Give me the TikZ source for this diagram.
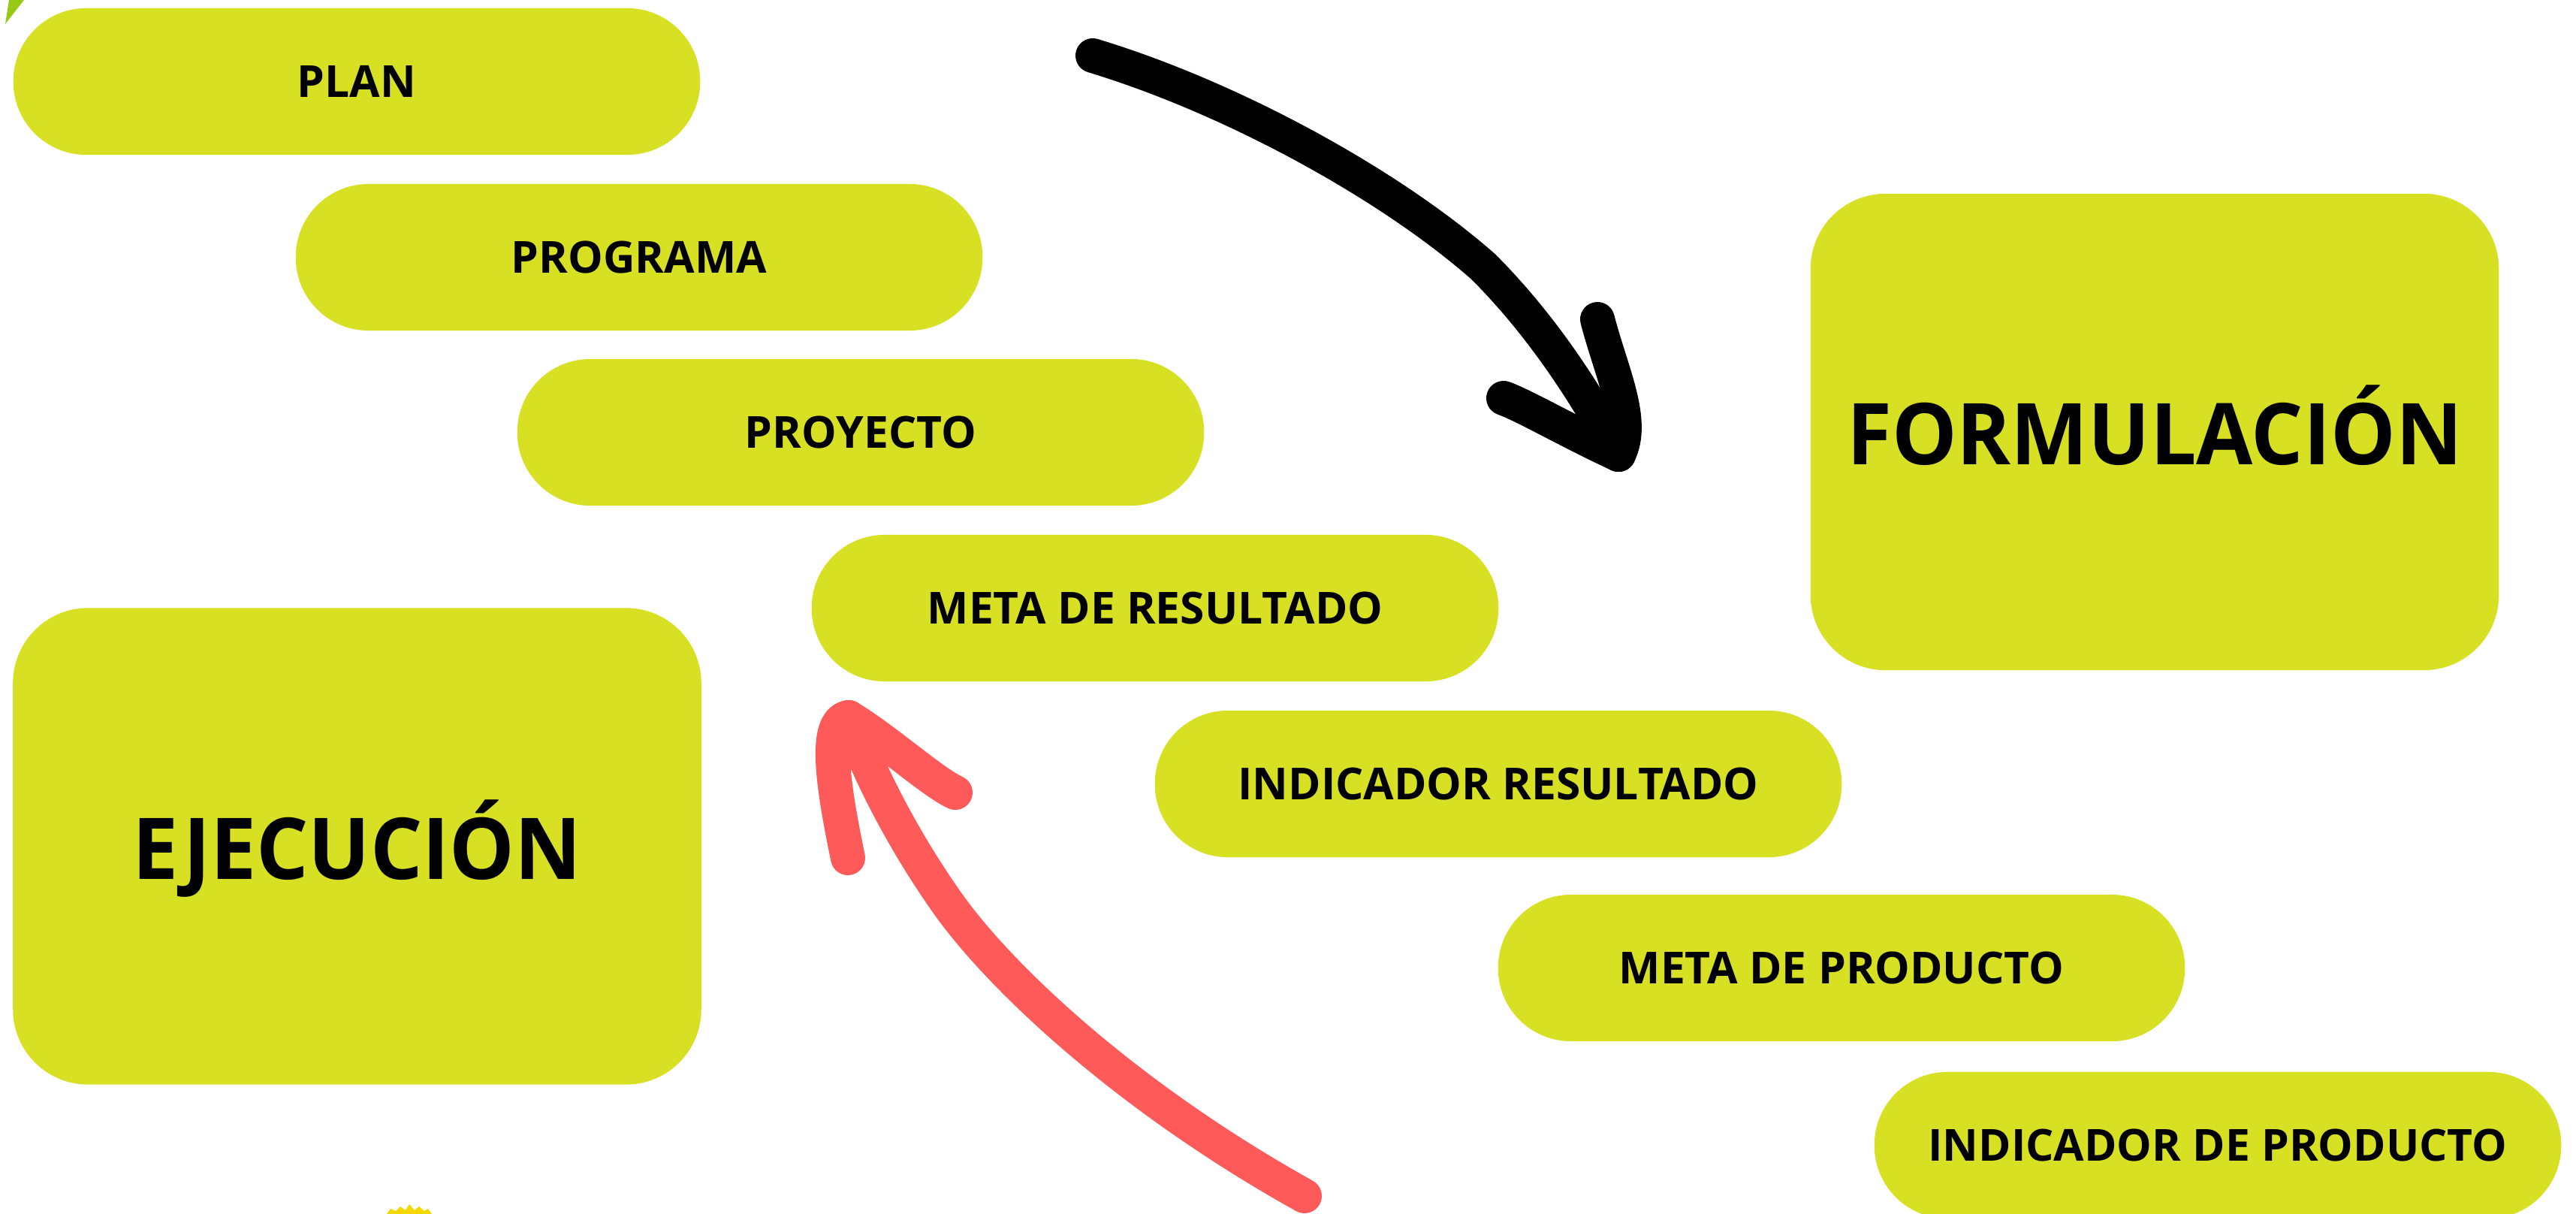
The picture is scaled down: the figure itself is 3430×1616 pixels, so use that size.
\documentclass[tikz,border=0pt]{standalone}
\usepackage{fontspec}
\setmainfont{Open Sans}
\newfontfamily\bigfont{Open Sans}[FakeStretch=0.96]
\definecolor{lime}{RGB}{215,224,34}
\definecolor{redarrow}{RGB}{255,90,90}
\definecolor{leafgreen}{RGB}{150,200,20}
\definecolor{sunyellow}{RGB}{245,215,0}
\tikzset{
  pill/.style={fill=lime, draw=none, minimum width=9.14cm, minimum height=1.95cm,
    rounded corners=0.97cm, inner sep=0pt, font=\bfseries\fontsize{16.7}{20}\selectfont},
  bigbox/.style={fill=lime, draw=none, minimum width=9.16cm, minimum height=6.34cm,
    rounded corners=1.0cm, inner sep=0pt, text height=0.875cm, text depth=0pt,
    font=\bigfont\bfseries\fontsize{32.3}{38}\selectfont},
  sketch/.style={line width=0.46cm, line cap=round, line join=round}
}
\begin{document}
\begin{tikzpicture}[x=0.01cm,y=-0.01cm]
\useasboundingbox[fill=white] (0,0) rectangle (3430,1616);
% decorative fragments at the edges
\fill[leafgreen] (12,0) -- (32,0) -- (7,32) -- cycle;
\fill[sunyellow] (515,1616) -- (520,1609) -- (527,1612) -- (533,1606) -- (540,1611) -- (545,1603)
  -- (552,1611) -- (558,1606) -- (565,1612) -- (570,1609) -- (575,1616) -- cycle;
% pills
\node[pill] (plan) at (475,108.5) {PLAN};
\node[pill] (programa) at (851,342.5) {PROGRAMA};
\node[pill] (proyecto) at (1146,575.5) {PROYECTO};
\node[pill] (metares) at (1538,809.5) {META DE RESULTADO};
\node[pill] (indres) at (1995,1043.5) {INDICADOR RESULTADO};
\node[pill] (metaprod) at (2452,1288.5) {META DE PRODUCTO};
\node[pill] (indprod) at (2953,1524.5) {INDICADOR DE PRODUCTO};
% big boxes
\node[bigbox] (form) at (2869,575) {FORMULACIÓN};
\node[bigbox] (ejec) at (475.5,1126.5) {EJECUCIÓN};
% black arrow
\coordinate (bstart) at (1455,74);
\coordinate (bmid) at (1975,355);
\coordinate (btip) at (2155,605);
\coordinate (bl) at (2002,530);
\coordinate (br) at (2127,425);
\draw[sketch, black] (bstart) .. controls (1640,130) and (1850,245) .. (bmid)
  .. controls (2050,430) and (2110,520) .. (btip);
\draw[sketch, black] (bl) .. controls (2030,540) and (2090,575) .. (btip);
\draw[sketch, black] (br) .. controls (2145,495) and (2178,560) .. (btip);
% red arrow
\coordinate (rstart) at (1737,1592);
\coordinate (rmid) at (1260,1200);
\coordinate (rtip) at (1130,955);
\coordinate (rr) at (1272,1055);
\coordinate (rl) at (1129,1142);
\draw[sketch, redarrow] (rstart) .. controls (1500,1460) and (1330,1300) .. (rmid)
  .. controls (1190,1100) and (1150,1010) .. (rtip);
\draw[sketch, redarrow] (rr) .. controls (1240,1040) and (1180,985) .. (rtip);
\draw[sketch, redarrow] (rl) .. controls (1110,1050) and (1095,960) .. (rtip);
\end{tikzpicture}
\end{document}
